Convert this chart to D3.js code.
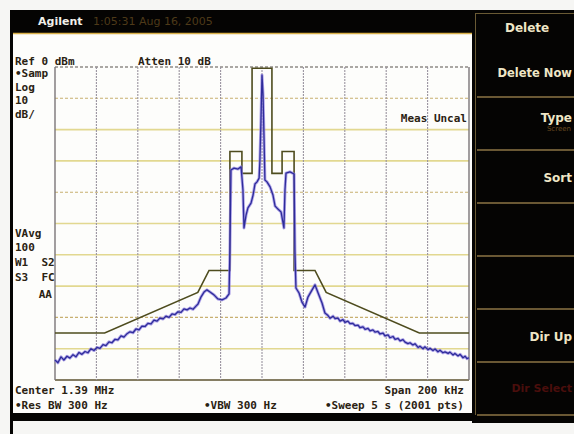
<!DOCTYPE html>
<html><head><meta charset="utf-8">
<script src="https://cdn.jsdelivr.net/npm/d3@7"></script>
<style>html,body{margin:0;padding:0;background:#f6f6f4;}svg{display:block;}</style>
</head><body>
<svg id="c" width="574" height="434"></svg>
<script>
// ---- instrument settings ----
const centerKHz = 1390;
const spanKHz = 200;
const refLevelDbm = 0;
const dbPerDiv = 10;
const xDivisions = d3.range(0, 11);
const yDivisions = d3.range(0, 11);

// ---- limit mask (offset from center in kHz, level in dBm) ----
const maskOffsetKHz = [-100, -76, -31, -25.6, -15.5, -15.5, -9.7, -9.7, -4.8, -4.8, 4.8, 4.8, 9.7, 9.7, 15.5, 15.5, 25.6, 31, 76, 100];
const maskDbm = [-85, -85, -72, -65, -65, -27, -27, -34, -34, -0.4, -0.4, -34, -34, -27, -27, -65, -65, -72, -85, -85];

// ---- measured trace (offset from center in kHz, level in dBm) ----
const traceOffsetKHz = [
 -100,-98.6,-97.1,-95.7,-94.2,-92.8,-91.3,-89.9,-88.4,-87.0,-85.5,-84.1,-82.6,-81.2,-79.7,-78.3,-76.8,-75.4,-73.9,-72.5,
 -71.0,-69.6,-68.1,-66.7,-65.2,-63.8,-62.3,-60.9,-59.4,-58.0,-56.5,-55.1,-53.6,-52.2,-50.7,-49.3,-47.8,-46.4,-44.9,-43.5,
 -42.0,-40.6,-39.1,-37.7,-36.2,-34.8,-33.3,-31.9,-30.9,-29.5,-28.0,-26.6,-25.1,-23.2,-21.3,-19.3,-17.4,-15.9,-15.5,-15.0,
 -13.5,-11.6,-10.1,-9.2,-8.7,-7.7,-6.8,-5.3,-4.3,-3.4,-2.4,-1.4,-1.0,-0.5,0,0.5,1.0,1.4,2.4,3.9,
 5.3,6.3,7.7,9.2,10.6,11.1,11.6,13.5,15.5,15.9,16.4,17.9,19.3,20.8,22.2,24.2,25.6,27.1,29.0,30.4,
 31.9,32.9,34.3,35.3,36.7,37.7,39.1,40.1,41.5,42.5,43.9,44.9,46.4,47.3,48.8,49.8,51.2,52.2,53.6,54.6,
 56.0,57.0,58.5,59.4,60.9,61.8,63.3,64.3,65.7,66.7,68.1,69.1,70.5,71.5,72.9,73.9,75.4,76.3,77.8,78.7,
 80.2,81.2,82.6,83.6,85.0,86.0,87.4,88.4,89.9,90.8,92.3,93.2,94.7,95.7,97.1,98.1,99.0,100];
const traceDbm = [
 -93.6,-94.5,-92.6,-93.6,-92.4,-93.0,-91.9,-92.6,-91.2,-91.8,-90.9,-91.3,-90.0,-90.6,-89.6,-89.9,-88.7,-89.0,-87.8,-88.1,
 -87.0,-87.2,-85.9,-86.3,-85.2,-84.6,-84.9,-83.7,-84.0,-82.8,-82.9,-81.9,-82.1,-80.9,-81.2,-80.2,-80.5,-79.6,-80.0,-78.9,
 -79.1,-78.2,-78.4,-77.3,-77.6,-77.0,-77.4,-76.4,-75.7,-73.5,-71.9,-71.2,-71.9,-72.8,-74.1,-74.4,-73.8,-72.5,-58.5,-32.9,
 -32.3,-32.6,-31.9,-39.3,-51.4,-47.3,-45.0,-43.5,-40.9,-37.4,-36.7,-35.5,-29.7,-16.9,-2.6,-8.9,-23.3,-36.1,-36.7,-38.3,
 -40.9,-44.4,-45.4,-46.3,-51.4,-39.3,-33.9,-33.5,-34.2,-58.5,-70.6,-72.2,-75.1,-76.7,-73.5,-71.2,-69.6,-72.2,-75.4,-78.6,
 -79.4,-80.3,-79.6,-80.4,-80.2,-81.2,-80.7,-81.6,-81.2,-82.0,-81.9,-82.6,-82.5,-83.3,-83.0,-83.8,-83.5,-84.3,-84.0,-84.7,
 -84.5,-85.3,-85.0,-85.9,-85.6,-86.5,-86.1,-87.0,-86.7,-87.5,-87.1,-87.9,-88.4,-88.1,-88.8,-88.4,-89.6,-89.2,-90.0,-89.4,
 -90.3,-89.9,-90.6,-90.1,-91.0,-90.5,-91.3,-91.0,-91.5,-91.1,-92.0,-91.5,-92.3,-91.8,-92.9,-92.4,-93.2,-92.9];

// ---- annotations ----
const leftLabels = ["Ref 0 dBm", "\u2022Samp", "Log", "10", "dB/"];
const avgLabels = ["VAvg", "100", "W1  S2", "S3  FC"];
const softkeys = ["Delete", "Delete Now", "Type", "Sort", "", "", "Dir Up", "Dir Select"];

// ---- drawing ----
const svg = d3.select("#c");
const plot = {left: 55, right: 469, top: 67, bottom: 380};
const x = d3.scaleLinear().domain([centerKHz - spanKHz / 2, centerKHz + spanKHz / 2]).range([plot.left, plot.right]);
const y = d3.scaleLinear().domain([refLevelDbm - 10 * dbPerDiv, refLevelDbm]).range([plot.bottom, plot.top]);
const xDiv = d3.scaleLinear().domain([0, 10]).range([plot.left, plot.right]);
const yDiv = d3.scaleLinear().domain([0, 10]).range([plot.top, plot.bottom]);

// frame
svg.append("rect").attr("x", 10).attr("y", 10).attr("width", 564).attr("height", 411).attr("fill", "#050403");
svg.append("rect").attr("x", 472).attr("y", 10).attr("width", 102).attr("height", 413).attr("fill", "#050403");
svg.append("rect").attr("x", 13).attr("y", 34).attr("width", 459).attr("height", 379).attr("fill", "#fdfdfb");
svg.append("line").attr("x1", 13).attr("x2", 472).attr("y1", 33.5).attr("y2", 33.5).attr("stroke", "#d9b048").attr("stroke-width", 1.5);
svg.append("rect").attr("x", 10).attr("y", 421).attr("width", 3).attr("height", 13).attr("fill", "#050403");

// title bar
svg.append("text").attr("x", 38).attr("y", 25).text("Agilent")
  .attr("font-family", "DejaVu Sans").attr("font-weight", "bold").attr("font-size", 11).attr("fill", "#f2f0ea");
svg.append("text").attr("x", 93).attr("y", 25).text("1:05:31  Aug 16, 2005")
  .attr("font-family", "DejaVu Sans").attr("font-size", 11).attr("fill", "#56401c").attr("opacity", 0.9);

// softkey panel
const panel = svg.append("g");
panel.append("line").attr("x1", 475.5).attr("x2", 475.5).attr("y1", 13).attr("y2", 415).attr("stroke", "#6a5a34").attr("stroke-width", 1);
panel.append("line").attr("x1", 476).attr("x2", 574).attr("y1", 13.5).attr("y2", 13.5).attr("stroke", "#6a5a34").attr("stroke-width", 1);
const sepY = d3.scaleLinear().domain([0, 6]).range([97, 415]);
panel.selectAll("line.sep").data(d3.range(0, 7)).join("line").attr("class", "sep")
  .attr("x1", 477).attr("x2", 574).attr("y1", d => sepY(d)).attr("y2", d => sepY(d))
  .attr("stroke", "#8c7446").attr("stroke-width", 1.6);
const skPos = [[505, 32, "start", "#efe6c6", 12], [572, 77, "end", "#efe6c6", 11.5], [572, 122, "end", "#efe6c6", 12], [572, 182, "end", "#efe6c6", 12],
  [0, 0, "start", "#000", 12], [0, 0, "start", "#000", 12], [572, 341, "end", "#efe6c6", 12], [572, 392, "end", "#4a0e0c", 11]];
softkeys.forEach((t, i) => {
  if (!t) return;
  panel.append("text").attr("x", skPos[i][0]).attr("y", skPos[i][1]).attr("text-anchor", skPos[i][2])
    .attr("font-family", "DejaVu Sans").attr("font-weight", "bold").attr("font-size", skPos[i][4])
    .attr("fill", skPos[i][3]).text(t);
});
panel.append("text").attr("x", 571).attr("y", 131).attr("text-anchor", "end").attr("font-family", "DejaVu Sans")
  .attr("font-size", 7).attr("fill", "#6a4a20").text("Screen");

// graticule
const g = svg.append("g");
const dashedRows = new Set([1, 4, 8]);
g.selectAll("line.h").data(yDivisions).join("line").attr("class", "h")
  .attr("x1", plot.left).attr("x2", plot.right).attr("y1", d => yDiv(d)).attr("y2", d => yDiv(d))
  .attr("stroke", d => d === 0 ? "#8e8a86" : d === 10 ? "#5c5230" : (dashedRows.has(d) ? "#c8b070" : "#e2d890"))
  .attr("stroke-width", d => (d === 0 || d === 10) ? 1.3 : (dashedRows.has(d) ? 1.1 : 1.6))
  .attr("stroke-dasharray", d => (dashedRows.has(d) || d === 0) ? "3,2" : null);
g.selectAll("line.v").data(xDivisions).join("line").attr("class", "v")
  .attr("y1", plot.top).attr("y2", plot.bottom).attr("x1", d => xDiv(d)).attr("x2", d => xDiv(d))
  .attr("stroke", d => (d === 0 || d === 10) ? "#7a7478" : "#9a94a0")
  .attr("stroke-width", d => (d === 0 || d === 10) ? 1.4 : 1.1)
  .attr("stroke-dasharray", d => (d === 0 || d === 10) ? null : "2,1");

// mask
const maskPts = maskOffsetKHz.map((o, i) => [centerKHz + o, maskDbm[i]]);
const line = d3.line().x(d => x(d[0])).y(d => y(d[1]));
svg.append("path").datum(maskPts).attr("d", line).attr("fill", "none")
  .attr("stroke", "#4e4c1e").attr("stroke-width", 1.6).attr("stroke-linejoin", "miter");

// trace
const tracePts = traceOffsetKHz.map((o, i) => [centerKHz + o, traceDbm[i]]);
svg.append("path").datum(tracePts).attr("d", line).attr("fill", "none")
  .attr("stroke", "#8d7ee0").attr("stroke-width", 3).attr("stroke-opacity", 0.7).attr("stroke-linejoin", "round");
svg.append("path").datum(tracePts).attr("d", line).attr("fill", "none")
  .attr("stroke", "#2e2c9a").attr("stroke-width", 1.3).attr("stroke-linejoin", "round");

// screen annotations
const mono = "DejaVu Sans Mono";
const txt = (xx, yy, t, anchor) => svg.append("text").attr("x", xx).attr("y", yy).text(t)
  .attr("text-anchor", anchor || "start").attr("font-family", mono).attr("font-weight", "bold")
  .attr("font-size", 11).attr("fill", "#2a2212").attr("xml:space", "preserve").style("white-space", "pre");
const leftY = [65, 77, 91, 104, 118];
leftLabels.forEach((t, i) => txt(15, leftY[i], t));
txt(138, 65, "Atten 10 dB");
txt(467, 122, "Meas Uncal", "end");
const avgY = [237, 251, 266, 281];
avgLabels.forEach((t, i) => txt(15, avgY[i], t));
txt(52, 298, "AA", "end");
txt(15, 394, "Center 1.39 MHz");
txt(15, 409, "\u2022Res BW 300 Hz");
txt(204, 409, "\u2022VBW 300 Hz");
txt(464, 394, "Span 200 kHz", "end");
txt(464, 409, "\u2022Sweep 5 s (2001 pts)", "end");
</script>
</body></html>
